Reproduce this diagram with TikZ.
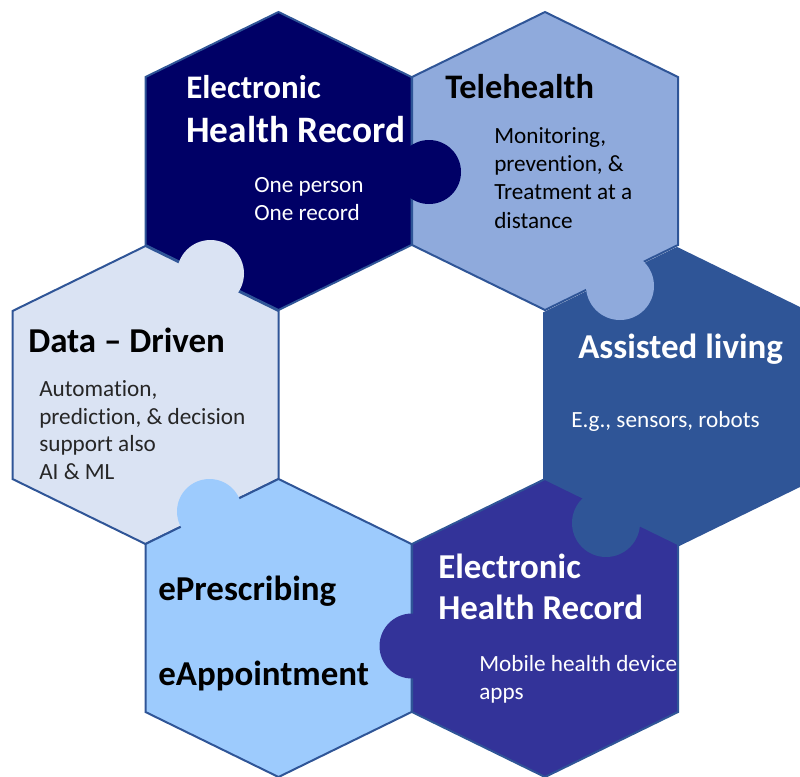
\documentclass[tikz,border=0pt]{standalone}
\usepackage{fontspec}
\setmainfont{Carlito}[Ligatures=NoCommon]
\usepackage{xcolor}
\usepackage{tikz}

\definecolor{ehrnavy}{HTML}{000066}
\definecolor{teleblue}{HTML}{8FAADC}
\definecolor{datapale}{HTML}{DAE3F3}
\definecolor{livingblue}{HTML}{2F5597}
\definecolor{rxsky}{HTML}{9DCBFD}
\definecolor{mobileindigo}{HTML}{333399}
\definecolor{hexline}{HTML}{2F5597}

% one cell of the ring: fill colour, centre x, centre y
\newcommand{\hexcell}[3]{%
  \filldraw[draw=hexline, line width=1.5pt, fill=#1] (#2,#3) ++(0,-149)
    -- ++(133,65) -- ++(0,168) -- ++(-133,65) -- ++(-133,-65) -- ++(0,-168) -- cycle;}

\tikzset{
  head/.style={anchor=base west, inner sep=0pt, font=\bfseries\fontsize{26.2}{30}\selectfont},
  body/.style={anchor=base west, inner sep=0pt, align=left, font=\fontsize{17.4}{20.6}\selectfont}
}

\begin{document}
\begin{tikzpicture}[x=0.75pt, y=-0.75pt]
  \useasboundingbox (0,0) rectangle (800,776);

  % the six cells
  \hexcell{ehrnavy}{278.5}{161}
  \hexcell{teleblue}{545}{161}
  \hexcell{datapale}{145.5}{395}
  \hexcell{livingblue}{677}{397}
  \hexcell{rxsky}{278.5}{628}
  \hexcell{mobileindigo}{545}{628}

  % puzzle tabs
  \fill[ehrnavy] (429,172) circle[radius=32];
  \fill[teleblue] (620,286) circle[radius=34];
  \fill[livingblue] (606,523) circle[radius=34];
  \fill[mobileindigo] (412,646) circle[radius=32.5];
  \fill[rxsky] (209.5,511.5) circle[radius=32.5];
  \fill[datapale] (210.5,273.5) circle[radius=33.5];

  % texts (multi-line nodes sit on their last baseline)
  \node[head, white, font=\bfseries\fontsize{24.7}{28}\selectfont] (ehrtop) at (186,98) {Electronic};
  \node[head, white, font=\bfseries\fontsize{28}{32}\selectfont] (ehrtopb) at (186,142) {Health Record};
  \node[body, white] (ehrtopc) at (254,220) {One person\\One record};

  \node[head, black, font=\bfseries\fontsize{25.8}{30}\selectfont] (tele) at (445,98) {Telehealth};
  \node[body, black, font=\fontsize{17.4}{21.2}\selectfont] (telec) at (494,228) {Monitoring,\\prevention, \&\\Treatment at a\\distance};

  \node[head, black] (data) at (28,352) {Data -- Driven};
  \node[body, black!85] (datac) at (39,479) {Automation,\\prediction, \& decision\\support also\\AI \& ML};

  \node[head, white] (living) at (578,358) {Assisted living};
  \node[body, white] (livingc) at (571,427) {E.g., sensors, robots};

  \node[head, black] (rx) at (158,600) {ePrescribing};
  \node[head, black] (appt) at (158,685) {eAppointment};

  \node[head, white] (ehrlow) at (438,578) {Electronic};
  \node[head, white] (ehrlowb) at (438,619) {Health Record};
  \node[body, white] (ehrlowc) at (479,699) {Mobile health device\\apps};
\end{tikzpicture}
\end{document}
